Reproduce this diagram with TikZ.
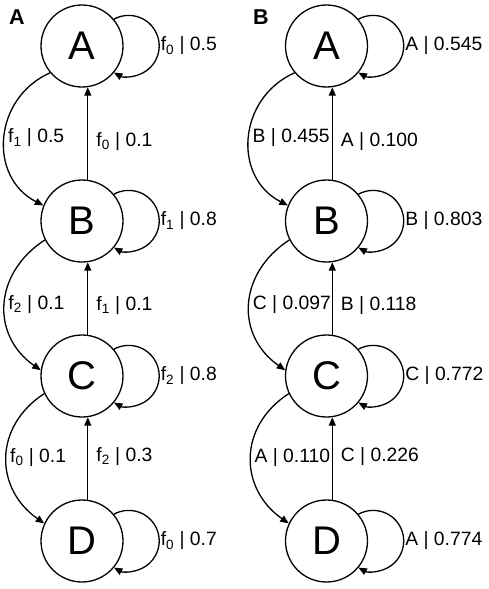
\documentclass[tikz,border=0pt]{standalone}
\usepackage{fontspec}
\setmainfont{Liberation Sans}
\usepackage{tikz}
\usetikzlibrary{arrows.meta}
\usetikzlibrary{positioning}

\begin{document}
\begin{tikzpicture}[x=1pt,y=1pt,
    state/.style={circle,draw,line width=1.3pt,minimum size=82pt,inner sep=0pt,
                  font=\fontsize{40}{40}\selectfont},
    edge/.style={line width=1.3pt,-{Triangle[length=8.5pt,width=7pt]}},
    lbl/.style={inner sep=1pt,font=\fontsize{19.3}{19.3}\selectfont},
    panel/.style={inner sep=0pt,font=\bfseries\fontsize{21.5}{21.5}\selectfont}]

           \useasboundingbox (0,0) rectangle (489,-589);

           % panel A
           \node [panel] (pa) at (17,-17.5) {A};

           \node [state] (a1) at (82,-46) {A};
           \node [state] (b1) at (82,-221) {B};
           \node [state] (c1) at (82,-376) {C};
           \node [state] (d1) at (82,-541) {D};

           \draw [edge] (a1.40) arc [start angle=119, end angle=-119, radius=30.5];
           \node [lbl, right=36pt of a1] (la1) {f\textsubscript{0} | 0.5};
           \draw [edge] (b1.40) arc [start angle=119, end angle=-119, radius=30.5];
           \node [lbl, right=36pt of b1] (lb1) {f\textsubscript{1} | 0.8};
           \draw [edge] (c1.40) arc [start angle=119, end angle=-119, radius=30.5];
           \node [lbl, right=36pt of c1] (lc1) {f\textsubscript{2} | 0.8};
           \draw [edge] (d1.40) arc [start angle=119, end angle=-119, radius=30.5];
           \node [lbl, right=36pt of d1] (ld1) {f\textsubscript{0} | 0.7};

           \draw [edge] (a1.220) to [out=204,in=153,looseness=1.2] node [lbl, right=2pt] {f\textsubscript{1} | 0.5} (b1.158);
           \draw [edge] (b1.207) to [out=213,in=145,looseness=1.2] node [lbl, right=2pt] {f\textsubscript{2} | 0.1} (c1.172);
           \draw [edge] (c1.205) to [out=213,in=145,looseness=1.2] node [lbl, right=2pt] {f\textsubscript{0} | 0.1} (d1.155);

           \draw [edge] (b1.82) -- node [lbl, right=7pt, pos=0.41] {f\textsubscript{0} | 0.1} (a1.-82);
           \draw [edge] (c1.82) -- node [lbl, right=7pt, pos=0.40] {f\textsubscript{1} | 0.1} (b1.-82);
           \draw [edge] (d1.82) -- node [lbl, right=7pt, pos=0.52] {f\textsubscript{2} | 0.3} (c1.-82);

           % panel B
           \node [panel] (pb) at (261,-17.5) {B};

           \node [state] (a2) at (326.5,-46) {A};
           \node [state] (b2) at (326.5,-221) {B};
           \node [state] (c2) at (326.5,-376) {C};
           \node [state] (d2) at (326.5,-541) {D};

           \draw [edge] (a2.40) arc [start angle=119, end angle=-119, radius=30.5];
           \node [lbl, right=36pt of a2] (la2) {A | 0.545};
           \draw [edge] (b2.40) arc [start angle=119, end angle=-119, radius=30.5];
           \node [lbl, right=36pt of b2] (lb2) {B | 0.803};
           \draw [edge] (c2.40) arc [start angle=119, end angle=-119, radius=30.5];
           \node [lbl, right=36pt of c2] (lc2) {C | 0.772};
           \draw [edge] (d2.40) arc [start angle=119, end angle=-119, radius=30.5];
           \node [lbl, right=36pt of d2] (ld2) {A | 0.774};

           \draw [edge] (a2.220) to [out=204,in=153,looseness=1.2] node [lbl, right=2pt] {B | 0.455} (b2.158);
           \draw [edge] (b2.207) to [out=213,in=145,looseness=1.2] node [lbl, right=2pt] {C | 0.097} (c2.172);
           \draw [edge] (c2.205) to [out=213,in=145,looseness=1.2] node [lbl, right=2pt] {A | 0.110} (d2.155);

           \draw [edge] (b2.82) -- node [lbl, right=7pt, pos=0.41] {A | 0.100} (a2.-82);
           \draw [edge] (c2.82) -- node [lbl, right=7pt, pos=0.40] {B | 0.118} (b2.-82);
           \draw [edge] (d2.82) -- node [lbl, right=7pt, pos=0.52] {C | 0.226} (c2.-82);

        \end{tikzpicture}
\end{document}
